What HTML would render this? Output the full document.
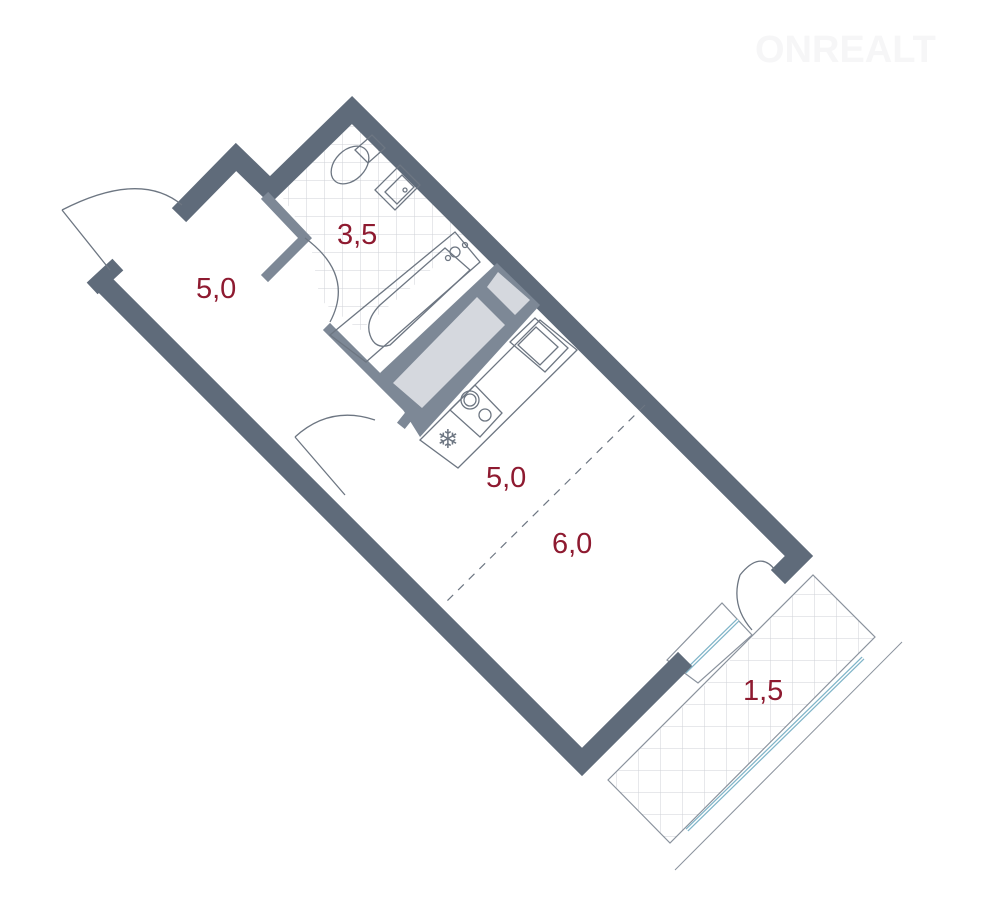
<!DOCTYPE html>
<html><head><meta charset="utf-8"><style>
html,body{margin:0;padding:0;background:#fff;}
svg{display:block}
text{font-family:"Liberation Sans",sans-serif;fill:#8e1a30;font-size:29px}
</style></head><body>
<svg width="987" height="910" viewBox="0 0 987 910" xmlns="http://www.w3.org/2000/svg">
<defs>
<pattern id="tile" width="18" height="18" patternUnits="userSpaceOnUse">
<path d="M0 0H18M0 0V18" stroke="#cfd2d7" stroke-width="1" fill="none"/>
</pattern>
<pattern id="tile2" width="22" height="22" patternUnits="userSpaceOnUse">
<path d="M0 0H22M0 0V22" stroke="#cfd2d7" stroke-width="1" fill="none"/>
</pattern>
</defs>
<text x="755" y="62" style="fill:#f6f6f7;font-size:38px;font-weight:bold">ONREALT</text>
<polygon points="278,190 352,118 470,232 420,280 360,330 320,300 310,240" fill="url(#tile)"/>
<polygon points="608,780 670,843 875,637 813,575 790,598 760,630 700,690" fill="url(#tile2)"/>
<polygon points="608,780 670,843 875,637 813,575" fill="none" stroke="#8a929d" stroke-width="1.2"/>
<line x1="687" y1="830" x2="863" y2="658" stroke="#7fb4c8" stroke-width="4"/>
<line x1="687" y1="830" x2="863" y2="658" stroke="#fff" stroke-width="1.5"/>
<line x1="675" y1="870" x2="902" y2="642" stroke="#8a929d" stroke-width="1"/>
<polygon points="667,660 722,603 752,635 698,683" fill="#fff" stroke="#8a929d" stroke-width="1.2"/>
<line x1="685" y1="672" x2="738" y2="620" stroke="#7fb4c8" stroke-width="4"/>
<line x1="685" y1="672" x2="738" y2="620" stroke="#fff" stroke-width="1.5"/>
<g stroke="#5f6b7a" fill="none" stroke-linejoin="miter" stroke-linecap="square">
<polyline points="103,283 582,762 678,666" stroke-width="20"/>
<line x1="98" y1="283" x2="112" y2="270" stroke-width="16"/>
<polyline points="186,208 236,157 270,190 352,110 799,556 785,570" stroke-width="20"/>
</g>
<g stroke="#7d8896" fill="none" stroke-width="10" stroke-linecap="square">
<polyline points="268,199 305,238 268,275"/>
<polyline points="330,330 412,412 404,422"/>
</g>
<polygon points="380,373 497,263 540,305 420,437" fill="#7d8896"/>
<polygon points="393,383 477,297 505,325 422,408" fill="#d5d8de"/>
<polygon points="487,287 498,272 530,300 515,315" fill="#d5d8de"/>
<g stroke="#6d7682" stroke-width="1.3" fill="none">
<polygon points="330,335 455,232 480,262 366,362"/>
<path d="M445,248 L470,270 L390,345 Q375,350 370,335 Q365,320 380,305 Z"/>
<circle cx="455" cy="252" r="5"/><circle cx="448" cy="258" r="2.5"/><circle cx="465" cy="245" r="2.5"/>
<ellipse cx="350" cy="165" rx="15" ry="22" transform="rotate(45 350 165)"/>
<polygon points="355,150 372,135 385,148 368,163"/>
<polygon points="375,190 400,165 420,185 395,210"/>
<polygon points="385,192 402,175 414,187 397,204"/>
<circle cx="405" cy="190" r="2"/>
<polygon points="420,440 540,320 577,350 458,468"/>
<polygon points="510,342 535,318 568,348 545,372"/>
<polygon points="518,345 536,327 558,347 540,365"/>
<polygon points="450,410 475,385 502,413 480,437"/>
<circle cx="470" cy="400" r="9"/><circle cx="470" cy="400" r="6"/><circle cx="485" cy="415" r="6"/>
<path d="M62,210 L110,270 M62,210 Q140,170 182,205"/>
<path d="M305,238 Q355,275 330,322"/>
<path d="M295,437 Q330,405 375,420 M295,437 L345,495"/>
<path d="M740,575 Q760,550 775,570 M740,575 Q730,605 752,630"/>
</g>
<text x="437" y="448" style="font-size:26px;fill:#6d7682">❄</text>
<line x1="645" y1="405" x2="443" y2="605" stroke="#6d7682" stroke-width="1.2" stroke-dasharray="8,7"/>
<text x="196" y="298">5,0</text>
<text x="337" y="244">3,5</text>
<text x="486" y="487">5,0</text>
<text x="552" y="553">6,0</text>
<text x="743" y="700">1,5</text>
</svg>
</body></html>
